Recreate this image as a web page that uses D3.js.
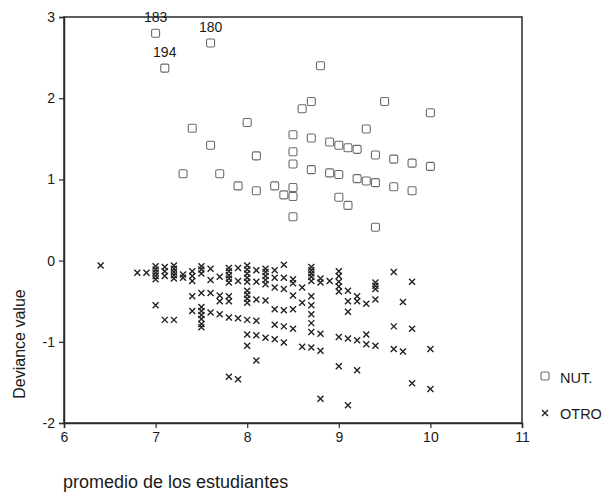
<!DOCTYPE html>
<html><head><meta charset="utf-8">
<script src="https://cdn.jsdelivr.net/npm/d3@7"></script>
<style>
body{margin:0;background:#fff;}
svg text{font-family:"Liberation Sans",Arial,sans-serif;fill:#1a1a1a;}
</style></head>
<body><svg id="c" width="602" height="492"></svg>
<script>
const xTicks = [6,7,8,9,10,11];
const yTicks = [-2,-1,0,1,2,3];
const seriesNames = ["NUT.","OTRO"];
const xTitle = "promedio de los estudiantes";
const yTitle = "Deviance value";

const nutX = [7.0,7.6,7.1,7.4,7.6,8.0,8.1,7.3,7.7,7.9,8.1,8.3,8.4,8.5,8.5,8.5,8.5,8.5,8.5,
  8.8,8.6,8.7,9.5,10.0,9.3,8.7,8.9,9.0,9.1,9.2,9.4,9.6,9.8,10.0,8.7,8.9,9.0,9.2,9.3,9.4,9.6,9.8,9.0,9.1,9.4];
const nutY = [2.80,2.68,2.37,1.63,1.42,1.70,1.29,1.07,1.07,0.92,0.86,0.92,0.81,1.55,1.34,1.19,0.90,0.79,0.54,
  2.40,1.87,1.96,1.96,1.82,1.62,1.51,1.46,1.42,1.39,1.37,1.30,1.25,1.20,1.16,1.12,1.08,1.06,1.01,0.98,0.96,0.91,0.86,0.78,0.68,0.41];
const nutLabels = ["183","180","194"];
const nutLabelIdx = [0,1,2];

const otroX = [6.4,6.8,6.9,
  7.0,7.0,7.0,7.0,7.0,7.0,
  7.1,7.1,7.1,7.1,
  7.2,7.2,7.2,7.2,7.2,7.2,
  7.3,7.3,
  7.4,7.4,7.4,7.4,7.4,
  7.5,7.5,7.5,7.5,7.5,7.5,7.5,7.5,7.5,7.5,
  7.6,7.6,7.6,7.6,
  7.7,7.7,7.7,7.7,
  7.8,7.8,7.8,7.8,7.8,7.8,7.8,7.8,7.8,
  7.9,7.9,7.9,7.9,
  8.0,8.0,8.0,8.0,8.0,8.0,8.0,8.0,8.0,8.0,8.0,8.0,
  8.1,8.1,8.1,8.1,8.1,8.1,
  8.2,8.2,8.2,8.2,8.2,8.2,8.2,
  8.3,8.3,8.3,8.3,8.3,8.3,
  8.4,8.4,8.4,8.4,8.4,8.4,
  8.5,8.5,8.5,8.5,8.5,
  8.6,8.6,8.6,
  8.7,8.7,8.7,8.7,8.7,8.7,8.7,8.7,8.7,8.7,8.7,
  8.8,8.8,8.8,8.8,8.8,
  8.9,
  9.0,9.0,9.0,9.0,9.0,9.0,9.0,
  9.1,9.1,9.1,9.1,9.1,
  9.2,9.2,9.2,9.2,
  9.3,9.3,9.3,
  9.4,9.4,9.4,9.4,9.4,
  9.6,9.6,9.6,
  9.7,9.7,
  9.8,9.8,9.8,
  10.0,10.0];
const otroY = [-0.06,-0.15,-0.15,
  -0.07,-0.11,-0.15,-0.19,-0.23,-0.55,
  -0.08,-0.13,-0.19,-0.73,
  -0.06,-0.10,-0.14,-0.18,-0.22,-0.73,
  -0.17,-0.21,
  -0.13,-0.19,-0.25,-0.44,-0.62,
  -0.07,-0.11,-0.16,-0.40,-0.57,-0.62,-0.67,-0.72,-0.78,-0.82,
  -0.10,-0.24,-0.40,-0.64,
  -0.20,-0.43,-0.50,-0.66,
  -0.09,-0.13,-0.18,-0.22,-0.27,-0.44,-0.50,-0.70,-1.43,
  -0.09,-0.25,-0.71,-1.46,
  -0.06,-0.11,-0.16,-0.21,-0.26,-0.37,-0.42,-0.47,-0.52,-0.73,-0.91,-1.05,
  -0.12,-0.26,-0.48,-0.74,-0.92,-1.23,
  -0.10,-0.14,-0.19,-0.24,-0.29,-0.49,-0.95,
  -0.12,-0.21,-0.33,-0.60,-0.79,-0.97,
  -0.05,-0.21,-0.35,-0.61,-0.81,-1.01,
  -0.23,-0.28,-0.43,-0.60,-0.84,
  -0.33,-0.52,-1.06,
  -0.08,-0.12,-0.16,-0.20,-0.25,-0.44,-0.55,-0.66,-0.77,-0.88,-1.07,
  -0.22,-0.27,-0.90,-1.11,-1.70,
  -0.25,
  -0.13,-0.19,-0.26,-0.32,-0.38,-0.94,-1.30,
  -0.37,-0.50,-0.63,-0.96,-1.78,
  -0.44,-0.50,-0.98,-1.35,
  -0.53,-0.91,-1.03,
  -0.27,-0.31,-0.35,-0.48,-1.05,
  -0.14,-0.81,-1.09,
  -0.51,-1.12,
  -0.26,-0.84,-1.51,
  -1.09,-1.58];

const svg = d3.select("#c");
const L = 64, R = 522, T = 17, B = 423;
const x = d3.scaleLinear().domain([6,11]).range([L,R]);
const y = d3.scaleLinear().domain([-2,3]).range([B,T]);

// frame
svg.append("rect").attr("x",L).attr("y",T).attr("width",R-L).attr("height",B-T)
  .attr("fill","none").attr("stroke","#2a2a2a").attr("stroke-width",1.5);

const fmt = d => String(d);
const xa = svg.append("g").attr("transform",`translate(0,${B})`)
  .call(d3.axisBottom(x).tickValues(xTicks).tickSize(5).tickPadding(4).tickFormat(fmt));
const ya = svg.append("g").attr("transform",`translate(${L},0)`)
  .call(d3.axisLeft(y).tickValues(yTicks).tickSize(5).tickPadding(4).tickFormat(fmt));
[xa,ya].forEach(a=>{
  a.select(".domain").attr("stroke","#2a2a2a").attr("stroke-width",1.5);
  a.selectAll(".tick line").attr("stroke","#2a2a2a").attr("stroke-width",1.2);
  a.selectAll("text").attr("font-size",14).attr("fill","#1a1a1a")
    .style("font-family","'Liberation Sans',Arial,sans-serif");
});

// NUT squares
const nut = nutX.map((v,i)=>({x:v,y:nutY[i]}));
svg.append("g").selectAll("rect").data(nut).join("rect")
  .attr("x",d=>x(d.x)-4).attr("y",d=>y(d.y)-4).attr("width",8).attr("height",8)
  .attr("rx",1.5)
  .attr("fill","none").attr("stroke","#6a6a6a").attr("stroke-width",1.1);

// labels
svg.append("g").selectAll("text").data(nutLabelIdx).join("text")
  .attr("x",d=>x(nut[d].x)).attr("y",d=>y(nut[d].y)-11)
  .attr("text-anchor","middle").attr("font-size",14).text((d,i)=>nutLabels[i]);

// OTRO crosses
const otro = otroX.map((v,i)=>({x:v,y:otroY[i]}));
const cross = "M-3,-3L3,3M-3,3L3,-3";
svg.append("g").selectAll("path").data(otro).join("path")
  .attr("transform",d=>`translate(${x(d.x)},${y(d.y)})`)
  .attr("d",cross).attr("stroke","#222").attr("stroke-width",1.4).attr("fill","none");

// legend
const lg = svg.append("g");
lg.append("rect").attr("x",541).attr("y",372).attr("width",8).attr("height",8).attr("rx",1.5)
  .attr("fill","none").attr("stroke","#6a6a6a").attr("stroke-width",1.1);
lg.append("text").attr("x",560).attr("y",383).attr("font-size",14.5).text(seriesNames[0]);
lg.append("path").attr("transform","translate(545,413)").attr("d",cross)
  .attr("stroke","#222").attr("stroke-width",1.4);
lg.append("text").attr("x",560).attr("y",419).attr("font-size",14.5).text(seriesNames[1]);

// titles
svg.append("text").attr("x",63).attr("y",488).attr("font-size",18).text(xTitle);
svg.append("text").attr("transform","translate(25,344) rotate(-90)")
  .attr("text-anchor","middle").attr("font-size",16).text(yTitle);
</script></body></html>
